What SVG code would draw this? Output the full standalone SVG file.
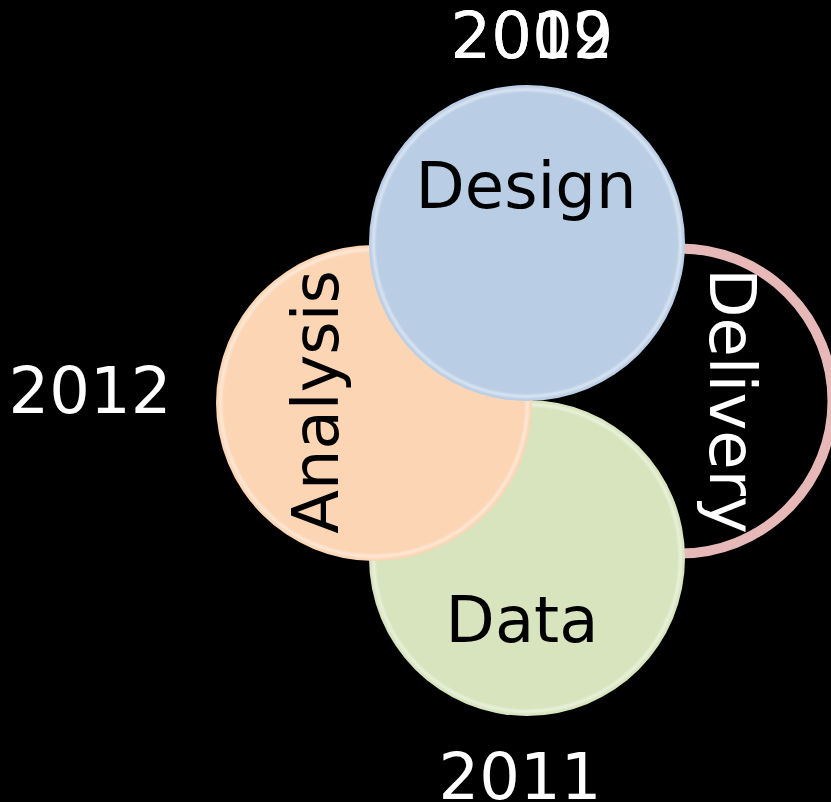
<svg xmlns="http://www.w3.org/2000/svg" width="831" height="802" viewBox="0 0 831 802">
  <defs>
    <style>
      .lbl { font-family: "DejaVu Sans", Verdana, sans-serif; font-size: 64px; text-anchor: middle; }
      .dark { fill: #000000; }
      .light { fill: #ffffff; }
      .rim { fill: none; stroke: #ffffff; stroke-opacity: 0.5; stroke-width: 3; filter: url(#soft); }
    </style>
    <filter id="soft" x="-10%" y="-10%" width="120%" height="120%">
      <feGaussianBlur stdDeviation="1.3"/>
    </filter>
  </defs>
  <rect x="0" y="0" width="831" height="802" fill="#000000"/>

  <g id="node-delivery">
    <circle cx="680" cy="401" r="152.5" fill="#000000" stroke="#E6B9B8" stroke-width="10"/>
  </g>

  <g id="node-data">
    <circle cx="527" cy="558" r="158" fill="#D7E4BD"/>
    <circle class="rim" cx="527" cy="558" r="153.5"/>
    <text class="lbl dark" x="522" y="642">Data</text>
  </g>

  <g id="node-analysis">
    <circle cx="374" cy="403" r="158" fill="#FCD5B5"/>
    <circle class="rim" cx="374" cy="403" r="153.5"/>
    <text class="lbl dark" transform="translate(338,402) rotate(-90)" x="0" y="0">Analysis</text>
  </g>

  <g id="node-design">
    <circle cx="527" cy="243" r="158" fill="#B9CDE5"/>
    <circle class="rim" cx="527" cy="243" r="153.5"/>
    <text class="lbl dark" x="526" y="208">Design</text>
  </g>

  <g id="delivery-label">
    <text class="lbl light" transform="translate(710,401) rotate(90)" x="0" y="0">Delivery</text>
  </g>

  <g id="connectors"></g>

  <g id="years">
    <text class="lbl light" x="532" y="58">2009</text>
    <text class="lbl light" x="532" y="58">2012</text>
    <text class="lbl light" x="90" y="413">2012</text>
    <text class="lbl light" x="520" y="799">2011</text>
  </g>
</svg>
